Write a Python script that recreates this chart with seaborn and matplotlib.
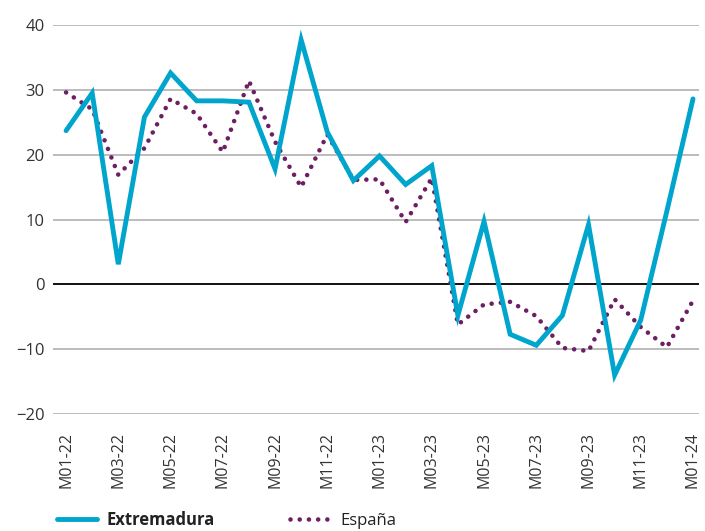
import pandas as pd
import matplotlib
matplotlib.use('Agg')
import matplotlib.pyplot as plt
import seaborn as sns
from matplotlib.lines import Line2D

# Data
months = ['M01-22', 'M02-22', 'M03-22', 'M04-22', 'M05-22', 'M06-22', 'M07-22', 'M08-22',
          'M09-22', 'M10-22', 'M11-22', 'M12-22', 'M01-23', 'M02-23', 'M03-23', 'M04-23',
          'M05-23', 'M06-23', 'M07-23', 'M08-23', 'M09-23', 'M10-23', 'M11-23', 'M12-23',
          'M01-24']
extremadura = [23.7, 29.5, 3.1, 25.8, 32.6, 28.3, 28.3, 28.1, 17.8, 37.7, 23.5, 16.0, 19.8,
               15.4, 18.3, -4.8, 9.7, -7.7, -9.4, -4.8, 9.2, -14.0, -5.5, 11.3, 28.6]
espana = [29.6, 27.0, 16.9, 21.0, 28.6, 26.3, 20.4, 31.4, 22.0, 15.0, 23.1, 16.1, 16.2,
          9.6, 16.4, -6.2, -3.1, -2.7, -4.9, -9.8, -10.3, -2.3, -6.6, -9.7, -2.5]
y_ticks = [-20, -10, 0, 10, 20, 30, 40]

df = pd.DataFrame({'idx': range(len(months)), 'Extremadura': extremadura, 'España': espana})

blue = '#00a5cd'
purple = '#6c1f63'

sns.set_style('white')
plt.rcParams['font.family'] = ['Open Sans', 'DejaVu Sans']

fig = plt.figure(figsize=(7.05, 5.31), dpi=100)
ax = fig.add_axes([53 / 705, 1 - 414 / 531, 646 / 705, 389 / 531])

sns.lineplot(data=df, x='idx', y='España', ax=ax, color=purple, linewidth=3.3,
             dashes=False, zorder=3)
ax.lines[-1].set_linestyle((0, (0.01, 2.0)))
ax.lines[-1].set_dash_capstyle('round')

sns.lineplot(data=df, x='idx', y='Extremadura', ax=ax, color=blue, linewidth=3.5, zorder=4)
ax.lines[-1].set_solid_joinstyle('miter')

# grid and zero line
for yv in y_ticks:
    if yv == 0:
        ax.axhline(0, color='black', linewidth=1.3, zorder=2)
    else:
        ax.axhline(yv, color='#b0b0b0', linewidth=1.2, zorder=1)

ax.set_xlim(-0.5, len(months) - 1 + 0.23)
ax.set_ylim(-20, 40)
ax.set_yticks(y_ticks)
ax.set_xticks(range(0, len(months), 2))
ax.set_xticklabels(months[::2], rotation=90)
ax.tick_params(axis='y', length=0, pad=6, labelsize=12, labelcolor='#333333')
ax.tick_params(axis='x', length=0, pad=13, labelsize=11.5, labelcolor='#333333')
ax.set_xlabel('')
ax.set_ylabel('')
for s in ax.spines.values():
    s.set_visible(False)

handles = [
    Line2D([0], [0], color=blue, linewidth=3.5),
    Line2D([0], [0], color=purple, linewidth=3.3, linestyle=(0, (0.01, 2.0)),
           dash_capstyle='round'),
]
leg = fig.legend(handles, ['Extremadura', 'España'], loc='center left',
                 bbox_to_anchor=(45 / 705, 1 - 520 / 531), ncol=2, frameon=False,
                 fontsize=12, handlelength=2.4, handletextpad=0.6, columnspacing=4.5,
                 borderpad=0.2)
leg.get_texts()[0].set_fontweight('bold')
for t in leg.get_texts():
    t.set_color('#222222')

fig.savefig('out.png', dpi=100)
